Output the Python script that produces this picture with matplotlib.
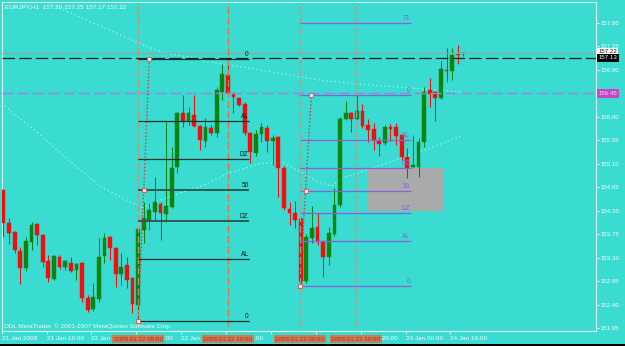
import matplotlib
matplotlib.use('Agg')
import matplotlib.pyplot as plt
import matplotlib.transforms as mtransforms
from matplotlib.patches import Rectangle
import numpy as np

plt.rcParams['font.family'] = ['Liberation Sans', 'DejaVu Sans']
plt.rcParams['lines.scale_dashes'] = False

# ---------------- data (EURJPY H1) ----------------
opens = [154.59, 153.96, 153.80, 153.42, 153.10, 153.60, 153.94, 153.73, 153.23, 152.89,
         153.31, 153.13, 153.19, 153.06, 153.19, 152.52, 152.31, 152.50, 153.33, 153.69,
         153.48, 152.98, 153.15, 152.91, 152.39, 153.83, 154.00, 154.18, 154.33, 154.14,
         154.27, 155.04, 156.07, 155.92, 156.04, 155.82, 155.54, 155.79, 155.69, 156.48,
         156.80, 156.46, 156.36, 156.25, 155.69, 155.31, 155.67, 155.79, 155.54, 155.61,
         155.02, 154.23, 154.16, 154.04, 152.85, 153.68, 153.89, 153.60, 153.31, 153.75,
         154.31, 155.96, 156.07, 155.96, 156.11, 155.84, 155.77, 155.54, 155.50, 155.81,
         155.81, 155.65, 155.23, 155.04, 155.04, 155.52, 156.52, 156.48, 156.36, 156.90,
         156.88, 157.21, 157.20]
highs = [154.62, 154.07, 153.82, 153.50, 153.69, 153.98, 153.96, 153.75, 153.35, 153.35,
         153.36, 153.25, 153.31, 153.19, 153.21, 152.58, 152.81, 153.67, 153.78, 153.71,
         153.50, 153.38, 153.31, 152.92, 153.88, 154.37, 154.35, 154.85, 154.37, 155.91,
         155.42, 156.09, 156.42, 156.19, 156.42, 155.84, 155.98, 155.84, 156.57, 157.01,
         157.11, 156.48, 156.38, 156.28, 155.71, 155.75, 155.88, 155.84, 155.65, 155.63,
         155.06, 154.37, 154.39, 154.08, 153.75, 154.29, 154.16, 153.63, 153.88, 154.64,
         156.00, 156.30, 156.09, 156.42, 156.25, 155.96, 155.88, 155.61, 155.84, 155.86,
         155.88, 155.67, 155.40, 155.65, 155.59, 156.57, 156.75, 156.50, 157.07, 157.33,
         157.32, 157.38, 157.25]
lows = [153.69, 153.57, 153.38, 152.79, 153.04, 153.44, 153.54, 153.12, 152.83, 152.87,
        153.08, 153.06, 153.02, 152.87, 152.45, 152.26, 152.27, 152.45, 153.19, 153.25,
        152.73, 152.77, 152.71, 152.24, 152.09, 153.58, 153.83, 154.02, 153.63, 153.98,
        154.25, 154.92, 155.80, 155.84, 155.80, 155.36, 155.42, 155.65, 155.61, 156.32,
        156.43, 156.07, 156.20, 155.65, 155.11, 155.25, 155.52, 155.33, 155.08, 154.46,
        154.21, 153.93, 153.86, 152.76, 152.81, 153.58, 153.54, 152.93, 153.16, 153.72,
        154.27, 155.94, 155.71, 155.94, 155.79, 155.52, 155.36, 155.25, 155.46, 155.54,
        155.46, 155.17, 154.83, 155.02, 154.85, 155.42, 156.19, 155.92, 156.34, 156.67,
        156.71, 157.01, 157.17]
closes = [153.96, 153.78, 153.44, 153.10, 153.61, 153.92, 153.73, 153.21, 152.91, 153.33,
          153.13, 153.23, 153.04, 153.17, 152.52, 152.29, 152.54, 153.31, 153.67, 153.48,
          152.98, 153.13, 152.87, 152.41, 153.85, 154.06, 154.21, 154.36, 154.16, 154.29,
          155.02, 156.07, 155.92, 156.07, 155.82, 155.56, 155.81, 155.69, 156.51, 156.82,
          156.46, 156.39, 156.23, 155.69, 155.33, 155.67, 155.81, 155.54, 155.59, 155.02,
          154.25, 154.16, 154.02, 152.85, 153.70, 153.87, 153.60, 153.31, 153.77, 154.31,
          155.96, 156.07, 155.96, 156.11, 155.82, 155.75, 155.56, 155.48, 155.81, 155.77,
          155.63, 155.23, 155.02, 155.08, 155.52, 156.48, 156.44, 156.36, 156.92, 156.88,
          157.19, 157.19, 157.22]

price_ticks = [157.80, 157.35, 156.90, 156.45, 156.00, 155.55, 155.10, 154.65,
               154.20, 153.75, 153.30, 152.85, 152.40, 151.95]
time_labels = ["21 Jan 2008", "21 Jan 16:00", "22 Jan 00:00", "22 Jan 08:00",
               "22 Jan 16:00", "23 Jan 00:00", "", "",
               "23 Jan 20:00", "24 Jan 00:00", "24 Jan 16:00"]

# moving averages (dotted)
slow_ma_x = [5.0, 6.8, 24.0, 28.7, 34.3, 35.8, 45.9, 56.6, 65.5, 81.5]
slow_ma_y = [158.40, 158.24, 157.42, 157.22, 157.13, 157.07, 156.90, 156.70, 156.61, 156.48]
fast_ma_x = [-0.3, 2.0, 5.55, 11.6, 17.5, 23.3, 24.6, 29.9, 35.2, 40.6, 45.9, 50.0,
             53.0, 56.2, 58.4, 60.5, 63.7, 70.8, 76.1, 81.5]
fast_ma_y = [156.27, 156.04, 155.75, 155.17, 154.65, 154.33, 154.27, 154.48, 154.67,
             154.94, 155.11, 155.12, 154.94, 154.75, 154.67, 154.83, 154.94, 155.21,
             155.40, 155.63]

# fibonacci objects
fib1_x = [24.0, 26.0]
fib1_y = [152.09, 157.11]
fib1_end = 43.8
fib1_levels = [0.0, 0.236, 0.382, 0.5, 0.618, 0.764, 1.0]
fib1_names = ["0", "AL", "DZ", "50", "DZ", "AL", "0"]

fib2_x = [52.8, 54.9]
fib2_y = [152.76, 156.41]
fib2_end = 72.6
fib2_levels = [0.0, 0.236, 0.382, 0.5, 0.618, 0.764, 1.0, 1.382]
fib2_names = ["0", "AL", "DZ", "50", "DZ", "AL", "0", "T1"]

# vertical lines and their time labels
vline_x = [24.0, 40.0, 52.8, 62.8]
vline_text = ["2008.01.22 08:00", "2008.01.22 16:00", "2008.01.23 06:00", "2008.01.23 16:00"]
vline_colors = ['#bb9a70', '#e2703a', '#a6a290', '#a6a290']

# zone rectangle
rect_x = [64.75, 78.6]
rect_y = [154.19, 155.01]

bid_price = 157.22
line_black = 157.13
line_purple = 156.45

title = "EURJPY,H1  157.20 157.25 157.17 157.22"
copyright_txt = "ODL MetaTrader, \u00a9 2001-2007 MetaQuotes Software Corp."

# ---------------- drawing ----------------
BG = '#3adbd0'
W, H = 625, 346
fig = plt.figure(figsize=(W / 100, H / 100), dpi=100)
fig.patch.set_facecolor(BG)
ax = fig.add_axes([1.7 / W, (H - 330.7) / H, (596 - 1.7) / W, (330.7 - 1.7) / H])
ax.set_facecolor(BG)
ax.set_xlim(-0.018, 105.64)
ax.set_ylim(151.899, 158.209)

# rectangle zone (background)
ax.add_patch(Rectangle((rect_x[0], rect_y[0]), rect_x[1] - rect_x[0], rect_y[1] - rect_y[0],
                       facecolor='#a9abab', edgecolor='none', zorder=1))

# moving averages
ma_color = '#93f7ef'
ax.plot(slow_ma_x, slow_ma_y, color=ma_color, lw=0.9, ls=(0, (1, 2)), zorder=2)
ax.plot(fast_ma_x, fast_ma_y, color=ma_color, lw=0.9, ls=(0, (1, 2)), zorder=2)

# candles
n = len(opens)
xs = np.arange(n)
o = np.array(opens); c = np.array(closes); hi = np.array(highs); lo = np.array(lows)
up = c >= o
GREEN, RED = '#0b850e', '#f20e0e'
cols = np.where(up, GREEN, RED)
ax.vlines(xs, lo, hi, colors=cols, lw=0.75, zorder=3)
bottoms = np.minimum(o, c)
heights = np.maximum(np.abs(c - o), 0.025)
ax.bar(xs, heights, bottom=bottoms, width=0.68, color=cols, edgecolor=cols, lw=0.3, zorder=4)

# horizontal lines
ax.axhline(bid_price, color='#8fa9a4', lw=0.9, zorder=5)
ax.axhline(line_black, color='#13201f', lw=0.9, dashes=(9, 3), zorder=5)
ax.axhline(line_purple, color='#9a86d4', lw=1.0, dashes=(8, 3), zorder=5)

# vertical lines
for vx, vc in zip(vline_x, vline_colors):
    ax.axvline(vx, ymin=0.015, color=vc, lw=0.9, dashes=(5, 2.5), zorder=5)


def draw_fib(fx, fy, fend, levels, names, lcol, tcol, special=None):
    base, top = fy[0], fy[1]
    rng = top - base
    for lv, nm in zip(levels, names):
        p = base + lv * rng
        lw = 0.9
        col = lcol
        if special and lv in special:
            lw = 1.4
            col = special[lv]
        ax.plot([fx[0], fend], [p, p], color=col, lw=lw, zorder=6, solid_capstyle='butt')
        ax.text(fend - 0.1, p + 0.02, nm, ha='right', va='bottom', fontsize=4.7,
                color=tcol, zorder=7)
    # anchor trendline
    ax.plot(fx, fy, color='#e8262a', lw=0.9, ls=(0, (1, 1.5)), zorder=6)
    mx = (fx[0] + fx[1]) / 2
    my = (fy[0] + fy[1]) / 2
    ax.plot([fx[0], mx, fx[1]], [fy[0], my, fy[1]], ls='none', marker='s', ms=2.6,
            mfc='#f3e8e8', mec='#e05050', mew=0.6, zorder=7)


draw_fib(fib1_x, fib1_y, fib1_end, fib1_levels, fib1_names, '#16302e', '#0c1a1a',
         special={0.5: '#2c5a56', 0.382: '#2c5a56'})
draw_fib(fib2_x, fib2_y, fib2_end, fib2_levels, fib2_names, '#8d5fd8', '#8a62d2')

# axes styling
for sp in ax.spines.values():
    sp.set_color('#dcf9f5')
    sp.set_linewidth(0.8)

ax.yaxis.tick_right()
ax.set_yticks(price_ticks)
# the 156.45 tick label sits under the purple price box, so it is left blank
ax.set_yticklabels(["" if abs(p - line_purple) < 1e-6 else f"{p:.2f}" for p in price_ticks])
ax.tick_params(axis='y', colors='#eefffd', labelsize=4.4, length=2, width=0.6, pad=1.2,
               direction='out')

tick_pos = [8 * k - 0.32 for k in range(len(time_labels))]
ax.set_xticks(tick_pos)
ax.set_xticklabels(time_labels)
for lab in ax.get_xticklabels():
    lab.set_ha('left')
ax.tick_params(axis='x', colors='#eefffd', labelsize=4.6, length=2, width=0.6, pad=1.5,
               direction='out')

# price boxes on the right
btrans = mtransforms.blended_transform_factory(ax.transAxes, ax.transData)
ax.text(1.004, bid_price + 0.03, f"{bid_price:.2f}", transform=btrans, ha='left', va='center',
        fontsize=4.4, color='#101010', clip_on=False, zorder=20,
        bbox=dict(boxstyle='square,pad=0.2', fc='white', ec='none'))
ax.text(1.004, line_black, f"{line_black:.2f}", transform=btrans, ha='left', va='center',
        fontsize=4.4, color='white', clip_on=False, zorder=21,
        bbox=dict(boxstyle='square,pad=0.25', fc='black', ec='none'))
ax.text(1.004, line_purple, f"{line_purple:.2f}", transform=btrans, ha='left', va='center',
        fontsize=4.4, color='#f4d6f4', clip_on=False, zorder=21,
        bbox=dict(boxstyle='square,pad=0.3', fc='#c448c4', ec='none'))

# vertical line time boxes at the bottom
vtrans = mtransforms.blended_transform_factory(ax.transData, ax.transAxes)
for vx, vt in zip(vline_x, vline_text):
    ax.text(vx, -0.026, vt, transform=vtrans, ha='center', va='center', fontsize=4.5,
            color='#a8321f', clip_on=False, zorder=22,
            bbox=dict(boxstyle='square,pad=0.25', fc='#cc7c50', ec='none'))

# texts
fig.text(5 / W, 1 - 7 / H, title, ha='left', va='center', fontsize=4.6, color='#f4fffe')
fig.text(4 / W, 1 - 326.5 / H, copyright_txt, ha='left', va='center', fontsize=4.6,
         color='#e8fffc')

# black strip at bottom
fig.add_artist(Rectangle((0, 0), 1, 2 / H, transform=fig.transFigure, fc='black', ec='none'))

fig.savefig('out.png', dpi=100, facecolor=BG)
